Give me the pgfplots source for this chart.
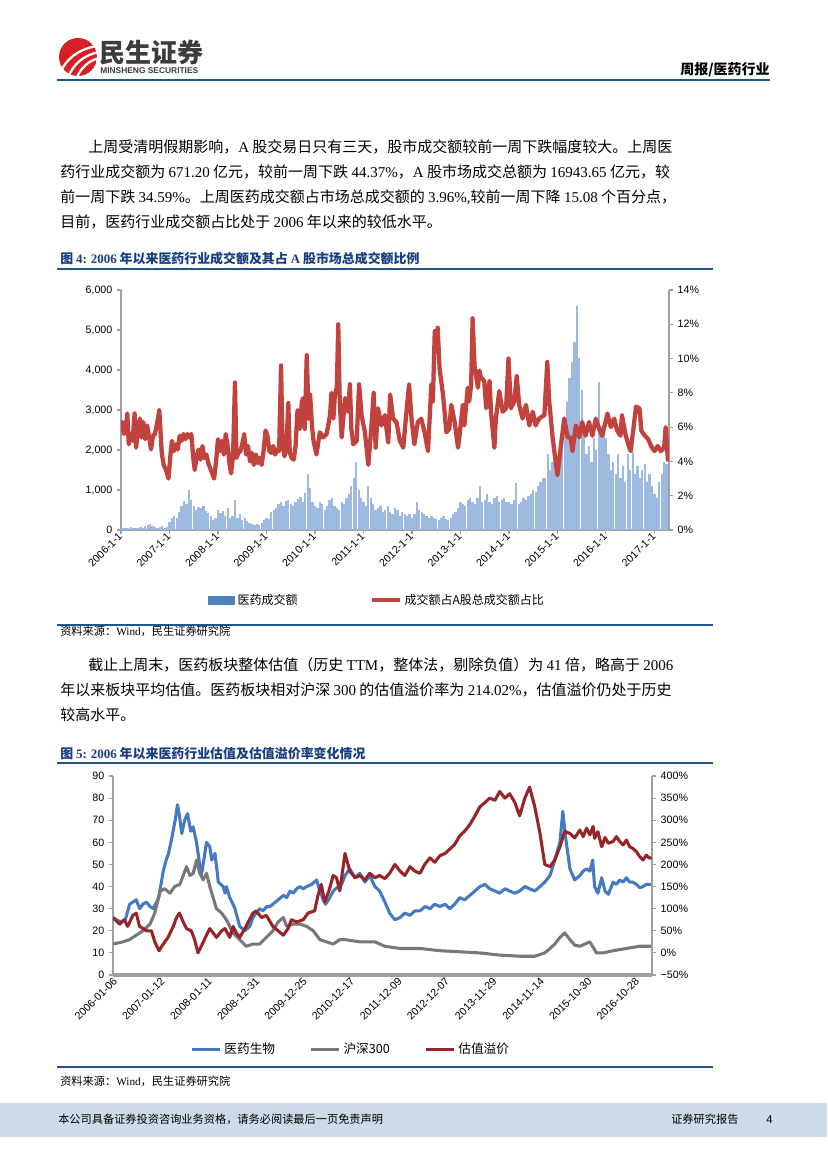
\documentclass[border=0pt]{standalone}
\usepackage{fontspec}
\usepackage{pgfplots}
\usepackage{pgfplotstable}
\pgfplotsset{compat=1.18}
\setmainfont{Liberation Serif}
\setsansfont{Liberation Sans}
\newfontfamily\cjk{Noto Sans CJK SC}
\newcommand\lat[1]{{\rmfamily #1}}
\definecolor{logored}{RGB}{214,32,39}
\definecolor{logogray}{RGB}{60,60,60}
\definecolor{headblue}{RGB}{33,86,140}
\definecolor{titleblue}{RGB}{22,62,128}
\definecolor{footband}{RGB}{204,218,234}
\definecolor{axgray}{RGB}{160,160,160}
\definecolor{barblue}{RGB}{158,186,224}
\definecolor{legblue}{RGB}{79,129,189}
\definecolor{redA}{RGB}{194,66,62}
\definecolor{blueB}{RGB}{68,122,194}
\definecolor{grayB}{RGB}{120,120,120}
\definecolor{redB}{RGB}{150,36,40}
\begin{document}
\pgfplotstableread{
x v
2006.00 40
2006.05 60
2006.10 50
2006.15 40
2006.20 70
2006.25 50
2006.30 60
2006.35 50
2006.40 80
2006.45 60
2006.50 90
2006.55 130
2006.60 150
2006.65 110
2006.70 80
2006.75 60
2006.80 70
2006.85 90
2006.90 60
2006.95 80
2007.00 200
2007.05 300
2007.10 350
2007.15 300
2007.20 450
2007.25 600
2007.30 720
2007.35 650
2007.40 1000
2007.45 750
2007.50 600
2007.55 500
2007.60 580
2007.65 550
2007.70 600
2007.75 480
2007.80 420
2007.85 350
2007.90 260
2007.95 300
2008.00 500
2008.05 420
2008.10 480
2008.15 350
2008.20 550
2008.25 300
2008.30 350
2008.35 760
2008.40 300
2008.45 400
2008.50 250
2008.55 300
2008.60 220
2008.65 180
2008.70 150
2008.75 120
2008.80 150
2008.85 130
2008.90 180
2008.95 250
2009.00 300
2009.05 280
2009.10 450
2009.15 500
2009.20 550
2009.25 650
2009.30 700
2009.35 600
2009.40 720
2009.45 750
2009.50 650
2009.55 600
2009.60 700
2009.65 780
2009.70 830
2009.75 700
2009.80 920
2009.85 1400
2009.90 1050
2009.95 700
2010.00 600
2010.05 550
2010.10 700
2010.15 650
2010.20 500
2010.25 600
2010.30 750
2010.35 800
2010.40 600
2010.45 550
2010.50 500
2010.55 700
2010.60 650
2010.65 800
2010.70 900
2010.75 1100
2010.80 1300
2010.85 1700
2010.90 1000
2010.95 800
2011.00 700
2011.05 600
2011.10 1100
2011.15 800
2011.20 650
2011.25 500
2011.30 550
2011.35 600
2011.40 450
2011.45 500
2011.50 600
2011.55 450
2011.60 400
2011.65 550
2011.70 500
2011.75 350
2011.80 450
2011.85 400
2011.90 350
2011.95 400
2012.00 300
2012.05 400
2012.10 700
2012.15 500
2012.20 450
2012.25 400
2012.30 350
2012.35 300
2012.40 350
2012.45 300
2012.50 280
2012.55 250
2012.60 300
2012.65 350
2012.70 280
2012.75 250
2012.80 300
2012.85 400
2012.90 450
2012.95 550
2013.00 700
2013.05 650
2013.10 600
2013.15 750
2013.20 800
2013.25 700
2013.30 650
2013.35 800
2013.40 1100
2013.45 700
2013.50 750
2013.55 900
2013.60 700
2013.65 650
2013.70 800
2013.75 850
2013.80 700
2013.85 750
2013.90 800
2013.95 700
2014.00 700
2014.05 650
2014.10 750
2014.15 1170
2014.20 650
2014.25 700
2014.30 800
2014.35 750
2014.40 850
2014.45 900
2014.50 1000
2014.55 950
2014.60 1100
2014.65 1200
2014.70 1300
2014.75 1300
2014.80 1900
2014.85 1500
2014.90 1700
2014.95 1800
2015.00 1500
2015.05 1900
2015.10 2100
2015.15 2600
2015.20 3200
2015.25 3800
2015.30 4200
2015.35 4700
2015.40 5600
2015.45 4300
2015.50 3500
2015.55 2600
2015.60 1900
2015.65 2100
2015.70 1700
2015.75 2300
2015.80 2000
2015.85 3700
2015.90 2600
2015.95 2400
2016.00 2300
2016.05 1900
2016.10 1500
2016.15 1700
2016.20 1400
2016.25 1900
2016.30 1300
2016.35 1600
2016.40 1200
2016.45 1900
2016.50 1500
2016.55 1950
2016.60 1400
2016.65 1600
2016.70 1300
2016.75 1500
2016.80 1650
2016.85 1200
2016.90 1400
2016.95 1100
2017.00 900
2017.05 800
2017.10 1200
2017.15 1400
2017.20 1700
2017.25 1650
}\barsA
\pgfplotstableread{
x p
2006.00 5.8
2006.03 6.3
2006.06 5.6
2006.10 6.0
2006.13 6.8
2006.16 5.0
2006.20 5.6
2006.24 5.2
2006.28 6.8
2006.31 4.8
2006.35 5.8
2006.39 6.5
2006.42 5.4
2006.46 6.3
2006.50 5.3
2006.54 6.1
2006.58 5.4
2006.62 4.7
2006.66 5.5
2006.70 5.6
2006.75 6.3
2006.79 7.0
2006.84 4.5
2006.88 3.8
2006.93 3.5
2006.98 3.0
2007.02 4.4
2007.05 5.2
2007.09 4.6
2007.13 5.0
2007.17 4.7
2007.21 5.5
2007.25 5.2
2007.29 5.6
2007.33 5.3
2007.37 5.6
2007.41 5.4
2007.45 5.6
2007.49 4.2
2007.52 3.5
2007.56 4.3
2007.60 4.7
2007.64 4.1
2007.68 4.9
2007.72 4.2
2007.76 4.4
2007.80 3.9
2007.84 3.6
2007.88 3.3
2007.92 3.0
2007.96 4.0
2008.00 5.3
2008.04 4.6
2008.08 5.2
2008.12 4.4
2008.16 5.6
2008.20 4.9
2008.24 3.8
2008.27 3.3
2008.31 4.3
2008.35 8.6
2008.38 4.2
2008.42 4.5
2008.46 4.6
2008.50 5.0
2008.54 5.6
2008.58 4.4
2008.62 4.9
2008.66 4.0
2008.70 4.5
2008.74 3.8
2008.78 4.4
2008.82 3.9
2008.86 4.2
2008.90 3.8
2008.94 4.6
2008.98 5.8
2009.02 5.5
2009.06 4.6
2009.10 4.5
2009.14 4.9
2009.18 4.4
2009.22 4.7
2009.26 4.6
2009.30 9.6
2009.33 5.2
2009.37 4.3
2009.41 4.8
2009.45 7.4
2009.48 4.5
2009.52 4.2
2009.56 4.1
2009.60 4.9
2009.64 7.0
2009.69 5.9
2009.73 7.5
2009.76 7.7
2009.79 5.9
2009.83 10.2
2009.87 6.5
2009.90 7.9
2009.94 6.0
2009.97 5.2
2010.03 4.4
2010.10 5.7
2010.17 5.4
2010.24 5.6
2010.31 6.7
2010.34 8.0
2010.38 6.5
2010.41 7.9
2010.45 8.3
2010.48 12.0
2010.51 7.5
2010.55 5.4
2010.62 7.7
2010.68 6.9
2010.72 8.5
2010.75 5.9
2010.79 5.0
2010.86 5.2
2010.91 8.5
2010.96 6.7
2011.03 5.7
2011.10 3.8
2011.16 5.9
2011.21 8.0
2011.25 4.8
2011.30 7.1
2011.37 6.1
2011.44 6.7
2011.51 5.1
2011.55 7.9
2011.61 6.5
2011.68 6.3
2011.75 5.2
2011.82 4.8
2011.88 6.7
2011.94 8.5
2011.99 6.5
2012.05 5.0
2012.12 6.3
2012.19 6.5
2012.26 5.7
2012.33 4.6
2012.40 8.5
2012.43 7.5
2012.47 11.6
2012.50 10.4
2012.53 11.8
2012.57 9.4
2012.64 7.9
2012.71 5.7
2012.77 5.9
2012.81 7.3
2012.88 6.3
2012.95 4.8
2012.98 5.5
2013.05 7.3
2013.08 6.1
2013.15 8.3
2013.18 7.5
2013.22 8.5
2013.25 12.35
2013.29 9.6
2013.36 8.3
2013.39 9.3
2013.42 8.9
2013.49 8.7
2013.53 7.1
2013.60 8.7
2013.63 6.9
2013.70 4.8
2013.73 6.5
2013.80 8.1
2013.87 6.9
2013.94 7.1
2013.99 10.0
2014.04 7.1
2014.11 7.5
2014.16 9.0
2014.21 7.3
2014.28 6.5
2014.35 7.3
2014.42 6.1
2014.49 6.9
2014.55 6.1
2014.62 6.5
2014.73 6.7
2014.79 9.8
2014.83 7.5
2014.90 5.4
2014.97 3.8
2015.00 3.2
2015.07 4.9
2015.14 6.5
2015.21 5.4
2015.27 5.4
2015.31 4.6
2015.38 6.1
2015.45 5.4
2015.51 6.3
2015.58 5.5
2015.65 6.3
2015.72 5.5
2015.79 6.5
2015.86 5.9
2015.92 5.5
2015.99 6.3
2016.03 6.8
2016.10 6.0
2016.17 6.5
2016.23 5.8
2016.30 5.5
2016.33 6.7
2016.40 5.6
2016.47 4.9
2016.51 4.6
2016.57 6.0
2016.62 7.2
2016.69 7.1
2016.73 5.8
2016.80 5.5
2016.87 5.3
2016.93 4.9
2017.00 4.6
2017.07 4.9
2017.13 4.6
2017.20 4.8
2017.23 6.0
2017.28 4.0
}\pctA
\pgfplotstableread{
t v
-0.06 26
0.01 25
0.10 24
0.20 25
0.29 32
0.36 33
0.43 34
0.50 30
0.57 32
0.64 33
0.72 31
0.79 30
0.86 33
0.90 35
0.96 42
1.00 47
1.06 52
1.11 55
1.18 62
1.25 70
1.30 77
1.34 72
1.39 64
1.45 70
1.51 73
1.58 65
1.63 67
1.70 60
1.80 45
1.84 50
1.91 60
1.98 58
2.02 52
2.09 55
2.16 42
2.26 40
2.30 37
2.33 40
2.40 35
2.47 32
2.51 30
2.61 22
2.72 20
2.82 22
2.89 26
2.96 28
3.03 30
3.10 29
3.18 31
3.25 31
3.31 32
3.42 34
3.53 36
3.60 35
3.67 38
3.74 37
3.81 39
3.88 40
3.95 39
4.02 40
4.13 41
4.23 43
4.30 38
4.37 34
4.42 32
4.51 35
4.58 38
4.69 40
4.76 41
4.83 45
4.93 48
5.04 44
5.14 46
5.25 42
5.35 45
5.46 40
5.56 38
5.67 33
5.77 28
5.88 25
5.99 26
6.09 28
6.20 27
6.30 29
6.41 29
6.52 31
6.62 30
6.72 32
6.83 31
6.94 32
7.04 30
7.14 32
7.25 35
7.35 34
7.46 36
7.57 38
7.67 40
7.78 41
7.88 39
7.99 38
8.09 37
8.20 39
8.30 38
8.41 37
8.51 38
8.62 40
8.72 39
8.83 38
8.94 40
9.04 42
9.15 45
9.25 52
9.36 60
9.42 74
9.48 62
9.57 48
9.67 43
9.78 45
9.85 47
9.92 48
9.99 47
10.05 52
10.09 40
10.16 37
10.24 44
10.31 38
10.38 36.5
10.48 42
10.55 41
10.62 43
10.69 42
10.76 44
10.83 42
10.90 42
10.97 41
11.04 39.5
11.11 40
11.18 41
11.29 41
}\blueB
\pgfplotstableread{
t v
-0.06 14
0.15 15
0.29 16
0.43 18
0.57 20
0.72 23
0.82 28
0.89 34
0.94 38
1.03 39
1.14 37
1.24 40
1.35 41
1.42 45
1.49 49
1.56 45
1.63 46
1.70 52
1.77 46
1.84 43
1.91 46
1.98 40
2.05 35
2.12 30
2.23 28
2.33 25
2.47 19
2.61 16
2.75 13
2.89 14
3.03 14
3.17 17
3.31 20
3.42 24
3.53 26
3.60 22
3.74 23
3.88 23
4.02 22
4.16 20
4.30 16
4.44 15
4.58 14
4.72 16
4.83 16
5.14 15
5.46 15
5.67 13
5.99 12
6.41 12
6.83 11
7.25 10.5
7.67 10
8.09 9
8.51 8.5
8.83 8.5
9.04 10
9.15 12
9.25 14
9.36 17
9.46 19
9.57 16
9.67 13.5
9.78 13
9.99 15
10.13 10
10.27 10
10.48 11
10.76 12
11.04 13
11.29 13
}\grayB
\pgfplotstableread{
t p
-0.06 80
0.08 65
0.18 75
0.25 60
0.36 85
0.43 90
0.50 60
0.65 50
0.75 50
0.82 25
0.91 5
1.00 20
1.10 35
1.21 60
1.28 80
1.34 90
1.42 70
1.49 55
1.59 50
1.66 30
1.73 0
1.80 15
1.91 40
1.98 55
2.05 45
2.12 35
2.23 50
2.30 55
2.40 35
2.47 60
2.54 45
2.61 35
2.72 55
2.79 70
2.89 90
2.96 95
3.07 80
3.17 85
3.31 60
3.42 50
3.53 40
3.63 55
3.70 75
3.81 70
3.95 75
4.05 90
4.19 95
4.26 130
4.33 155
4.40 115
4.49 140
4.58 175
4.65 170
4.72 140
4.83 225
4.93 185
5.04 170
5.14 175
5.25 165
5.35 180
5.46 170
5.56 175
5.67 168
5.77 180
5.88 200
5.99 185
6.09 175
6.20 195
6.30 185
6.41 180
6.51 200
6.62 215
6.72 205
6.83 220
6.94 225
7.04 235
7.14 245
7.25 265
7.35 275
7.46 290
7.57 310
7.67 330
7.78 340
7.88 350
7.99 345
8.09 365
8.20 350
8.30 360
8.41 340
8.51 310
8.62 350
8.72 375
8.83 330
8.94 270
9.04 200
9.15 195
9.25 210
9.36 240
9.46 275
9.57 270
9.67 260
9.78 278
9.85 263
9.92 282
9.99 267
10.06 286
10.09 259
10.16 274
10.24 240
10.31 261
10.38 248
10.48 252
10.55 263
10.62 252
10.69 244
10.76 255
10.83 240
10.90 236
10.97 229
11.04 218
11.11 210
11.18 221
11.25 214
11.29 216
}\redB
\begin{tikzpicture}
\useasboundingbox (0,0) rectangle (620.25pt,-876.75pt);
\fill[white] (0,0) rectangle (620.25pt,-876.75pt);
\begin{scope}[x=0.75pt,y=-0.75pt]
% ---------- header ----------
\begin{scope}
\clip (78,57) circle[radius=19];
\fill[logored] (78,57) circle[radius=19];
\draw[white,line width=1.7pt] (61,71) .. controls (67,59) and (77,50) .. (96,46);
\draw[white,line width=1.7pt] (68,78) .. controls (73,64) and (84,55) .. (99,52);
\draw[white,line width=1.7pt] (76,80) .. controls (80,68) and (89,60) .. (100,58);
\end{scope}
\node[anchor=west,inner sep=0,text=logogray,font=\cjk\bfseries\fontsize{19.5}{20}\selectfont] at (99,53) {民生证券};
\node[anchor=west,inner sep=0,text=logogray,font=\sffamily\bfseries\fontsize{6.3}{7}\selectfont] at (100,71) {MINSHENG SECURITIES};
\node[anchor=base east,inner sep=0,font=\cjk\bfseries\fontsize{10.5}{12}\selectfont] at (770,75) {周报/医药行业};
\draw[headblue,line width=1.8pt] (57,80) -- (770,80);
% ---------- paragraphs ----------
\begin{scope}[every node/.style={anchor=base west,inner sep=0,font=\cjk\fontsize{11.25}{13}\selectfont}]
\node at (88,153) {上周受清明假期影响，\lat{A} 股交易日只有三天，股市成交额较前一周下跌幅度较大。上周医};
\node at (60,178) {药行业成交额为 \lat{671.20} 亿元，较前一周下跌 \lat{44.37\%}，\lat{A} 股市场成交总额为 \lat{16943.65} 亿元，较};
\node at (60,203) {前一周下跌 \lat{34.59\%}。上周医药成交额占市场总成交额的 \lat{3.96\%,}较前一周下降 \lat{15.08} 个百分点，};
\node at (60,228) {目前，医药行业成交额占比处于 \lat{2006} 年以来的较低水平。};
\node at (88,670) {截止上周末，医药板块整体估值（历史 \lat{TTM}，整体法，剔除负值）为 \lat{41} 倍，略高于 \lat{2006}};
\node at (60,695) {年以来板块平均估值。医药板块相对沪深 \lat{300} 的估值溢价率为 \lat{214.02\%}，估值溢价仍处于历史};
\node at (60,720) {较高水平。};
\end{scope}
% ---------- figure frames ----------
\node[anchor=base west,inner sep=0,text=titleblue,font=\cjk\bfseries\fontsize{9.7}{12}\selectfont] at (60,264) {图 \lat{4:} \lat{2006} 年以来医药行业成交额及其占 \lat{A} 股市场总成交额比例};
\draw[headblue,line width=1.2pt] (57,269) -- (713,269);
\draw[headblue,line width=1.2pt] (57,625) -- (713,625);
\node[anchor=base west,inner sep=0,font=\cjk\fontsize{8.4}{10}\selectfont] at (60,635) {资料来源：\lat{Wind}，民生证券研究院};
\node[anchor=base west,inner sep=0,text=titleblue,font=\cjk\bfseries\fontsize{9.7}{12}\selectfont] at (60,758) {图 \lat{5:} \lat{2006} 年以来医药行业估值及估值溢价率变化情况};
\draw[headblue,line width=1.2pt] (57,763) -- (713,763);
\draw[headblue,line width=1.2pt] (57,1067) -- (713,1067);
\node[anchor=base west,inner sep=0,font=\cjk\fontsize{8.4}{10}\selectfont] at (60,1085) {资料来源：\lat{Wind}，民生证券研究院};
% ---------- footer ----------
\fill[footband] (0,1103) rectangle (827,1137);
\node[anchor=base west,inner sep=0,font=\cjk\fontsize{8.4}{10}\selectfont] at (58,1123) {本公司具备证券投资咨询业务资格，请务必阅读最后一页免责声明};
\node[anchor=base west,inner sep=0,font=\cjk\fontsize{8.4}{10}\selectfont] at (671,1123) {证券研究报告};
\node[anchor=base west,inner sep=0,font=\sffamily\fontsize{8.4}{10}\selectfont] at (766,1123) {4};
\end{scope}
\pgfplotsset{
  myaxis/.style={
    scale only axis, anchor=south west,
    axis line style={draw=axgray,line width=0.8pt},
    tick style={draw=axgray,line width=0.8pt},
    tick align=outside, major tick length=3pt,
    /pgf/number format/assume math mode=true,
    /pgf/number format/1000 sep={,},
    tick label style={font=\sffamily\fontsize{8}{9}\selectfont},
    clip=true,
  }
}
% ================= chart 1 =================
\begin{axis}[myaxis,
  at={(90.75pt,-397.5pt)}, width=411pt, height=180pt,
  xmin=2006, xmax=2017.3, ymin=0, ymax=6000,
  axis x line*=bottom, axis y line*=left,
  xtick={2006,2007,2008,2009,2010,2011,2012,2013,2014,2015,2016,2017},
  xticklabels={2006-1-1,2007-1-1,2008-1-1,2009-1-1,2010-1-1,2011-1-1,2012-1-1,2013-1-1,2014-1-1,2015-1-1,2016-1-1,2017-1-1},
  x tick label style={rotate=45,anchor=east,font=\sffamily\fontsize{8}{9}\selectfont,inner sep=0.5pt},
  ytick={0,1000,2000,3000,4000,5000,6000},
]
\addplot[ycomb, draw=barblue, line width=1.7pt] table[x=x,y=v] {\barsA};
\end{axis}
\begin{axis}[myaxis,
  at={(90.75pt,-397.5pt)}, width=411pt, height=180pt,
  xmin=2006, xmax=2017.3, ymin=0, ymax=14,
  axis x line=none, axis y line*=right,
  ytick={0,2,4,6,8,10,12,14},
  yticklabel={\pgfmathprintnumber{\tick}\%},
  legend style={at={(0.468,-0.292)}, anchor=center, draw=none, fill=none,
    legend columns=2, font=\cjk\fontsize{9}{10}\selectfont,
    /tikz/every even column/.append style={column sep=52pt}},
  legend image code/.code={\draw[#1] (0pt,0pt) -- (21pt,0pt);},
]
\addlegendimage{legend image code/.code={\fill[legblue] (0pt,-3pt) rectangle (19.5pt,3pt);}}
\addlegendentry{医药成交额}
\addplot[draw=redA, line width=3.2pt, line join=round] table[x=x,y=p] {\pctA};
\addlegendentry{成交额占A股总成交额占比}
\end{axis}
% ================= chart 2 =================
\begin{axis}[myaxis,
  at={(84.75pt,-731.25pt)}, width=404.25pt, height=149.25pt,
  xmin=-0.06, xmax=11.3, ymin=0, ymax=90,
  axis x line*=bottom, axis y line*=left,
  x axis line style={draw=axgray,line width=2.6pt},
  xtick={0,1,2,3,4,5,6,7,8,9,10,11},
  xtick style={draw=none},
  xticklabels={2006-01-06,2007-01-12,2008-01-11,2008-12-31,2009-12-25,2010-12-17,2011-12-09,2012-12-07,2013-11-29,2014-11-14,2015-10-30,2016-10-28},
  x tick label style={rotate=45,anchor=east,font=\sffamily\fontsize{8}{9}\selectfont,inner sep=0.5pt},
  ytick={0,10,20,30,40,50,60,70,80,90},
]
\addplot[draw=blueB, line width=2.3pt, line join=round] table[x=t,y=v] {\blueB};
\addplot[draw=grayB, line width=2.3pt, line join=round] table[x=t,y=v] {\grayB};
\end{axis}
\begin{axis}[myaxis,
  at={(84.75pt,-731.25pt)}, width=404.25pt, height=149.25pt,
  xmin=-0.06, xmax=11.3, ymin=-50, ymax=400,
  axis x line=none, axis y line*=right,
  ytick={-50,0,50,100,150,200,250,300,350,400},
  yticklabels={−50\%,0\%,50\%,100\%,150\%,200\%,250\%,300\%,350\%,400\%},
  legend style={at={(0.442,-0.372)}, anchor=center, draw=none, fill=none,
    legend columns=3, font=\cjk\fontsize{9.5}{10}\selectfont,
    /tikz/every even column/.append style={column sep=24pt}},
  legend image code/.code={\draw[#1] (0pt,0pt) -- (21pt,0pt);},
]
\addlegendimage{draw=blueB, line width=2.3pt}
\addlegendentry{医药生物}
\addlegendimage{draw=grayB, line width=2.3pt}
\addlegendentry{沪深300}
\addplot[draw=redB, line width=2.3pt, line join=round] table[x=t,y=p] {\redB};
\addlegendentry{估值溢价}
\end{axis}
\end{tikzpicture}
\end{document}
